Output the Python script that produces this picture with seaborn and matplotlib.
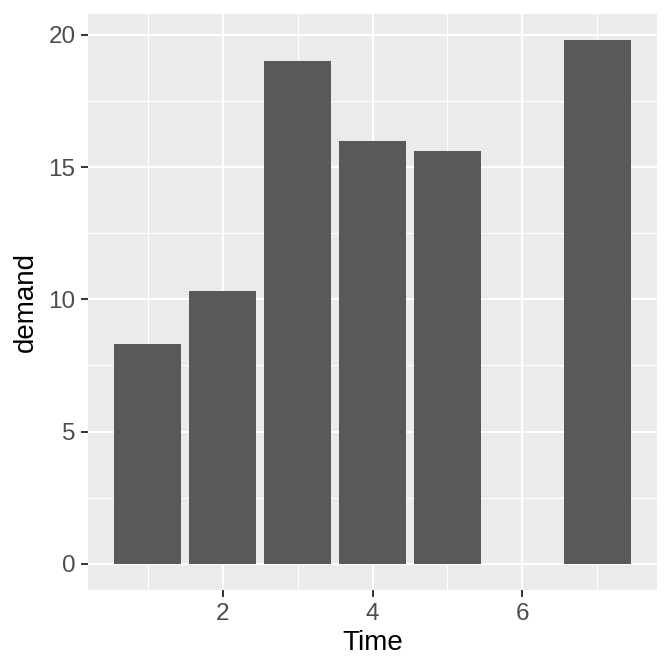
import pandas as pd
import matplotlib
matplotlib.use("Agg")
import matplotlib.pyplot as plt
import seaborn as sns

# BOD data
time = [1, 2, 3, 4, 5, 7]
demand = [8.3, 10.3, 19.0, 16.0, 15.6, 19.8]

df = pd.DataFrame({"Time": time, "demand": demand})

sns.set_theme(style="white")
plt.rcParams["font.family"] = ["Liberation Sans", "DejaVu Sans"]

fig = plt.figure(figsize=(6.72, 6.72), dpi=100)
ax = fig.add_axes([88 / 672, 1 - 590 / 672, (657 - 88) / 672, (590 - 14) / 672])

sns.barplot(data=df, x="Time", y="demand", native_scale=True, width=0.9,
            color="#595959", saturation=1, ax=ax, zorder=3, linewidth=0)

ax.set_facecolor("#EBEBEB")
ax.set_xlim(0.205, 7.795)
ax.set_ylim(-0.99, 20.79)
ax.set_xticks([2, 4, 6])
ax.set_yticks([0, 5, 10, 15, 20])
ax.set_xticks([1, 3, 5, 7], minor=True)
ax.set_yticks([2.5, 7.5, 12.5, 17.5], minor=True)
ax.grid(which="major", color="white", linewidth=1.5, zorder=1)
ax.grid(which="minor", color="white", linewidth=0.75, zorder=1)
ax.set_axisbelow(True)
for s in ax.spines.values():
    s.set_visible(False)

ax.tick_params(which="major", length=5, width=1.4, color="#333333",
               labelsize=17.5, labelcolor="#4D4D4D", pad=4, left=True, bottom=True)
ax.tick_params(which="minor", length=0)
ax.set_xlabel("Time", fontsize=20, color="black", labelpad=4)
ax.set_ylabel("demand", fontsize=20, color="black", labelpad=7)

fig.savefig("out.png", dpi=100)
